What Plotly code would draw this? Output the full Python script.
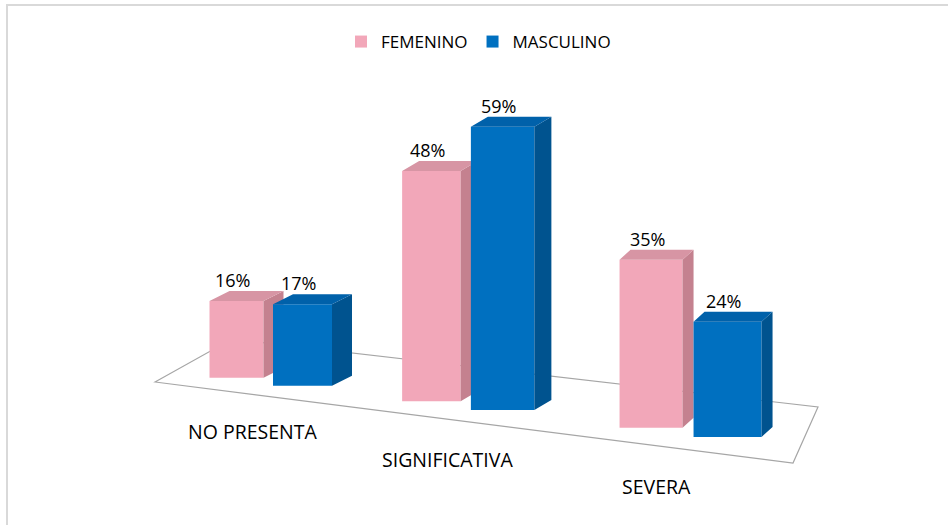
import plotly.graph_objects as go

# ---------------- data ----------------
categories = ["NO PRESENTA", "SIGNIFICATIVA", "SEVERA"]
series_names = ["FEMENINO", "MASCULINO"]
femenino = [16, 48, 35]
masculino = [17, 59, 24]
series_values = [femenino, masculino]

# ---------------- styling / layout (pseudo 3D projection) ----------------
W, H = 948, 525
SCALE = 4.8            # px per percentage point
Y0_PX = 400            # pixel row of value 0 on the y axis
FONT = "Open Sans, Liberation Sans, Arial, sans-serif"
FRONT = ["#F2A7B9", "#0070C0"]
SIDE = ["#C4818F", "#00538F"]
TOP = ["#D795A4", "#0061AA"]
DEPTH_DX = [20, 17, 11]   # horizontal depth offset per category (px)
DEPTH_DY = 10             # vertical depth offset (px)
LABEL_X = [252, 447, 656]  # category label centres (px)


def group_center(i):
    return 269.5 + 197.5 * i + 12.4 * i * (i - 1)


def bar_center(i, j):
    pitch = 66 + 5.25 * i
    return group_center(i) + (j - 0.5) * pitch


def bar_width(i, j):
    return 54 + 4.5 * i + 5 * j


def floor_px(x):
    return 406.7 + 0.1203 * (x - 476.2)


def px_to_val(py):
    return (Y0_PX - py) / SCALE


def py_paper(py):
    return 1 - py / H


fig = go.Figure()
annotations = []

for j, (name, vals) in enumerate(zip(series_names, series_values)):
    xs, ws, bases = [], [], []
    side_x, side_y, top_x, top_y = [], [], [], []
    for i, v in enumerate(vals):
        xc = bar_center(i, j)
        w = bar_width(i, j)
        b = px_to_val(floor_px(xc))
        xs.append(xc)
        ws.append(w)
        bases.append(b)
        xl, xr = xc - w / 2, xc + w / 2
        top = b + v
        dx = DEPTH_DX[i]
        dyv = DEPTH_DY / SCALE
        side_x += [xr, xr + dx, xr + dx, xr, xr, None]
        side_y += [b, b + dyv, top + dyv, top, b, None]
        top_x += [xl, xr, xr + dx, xl + dx, xl, None]
        top_y += [top, top, top + dyv, top + dyv, top, None]
        annotations.append(dict(
            x=xc - 4, y=top, xref="x", yref="y", text=f"{v}%",
            showarrow=False, yshift=21, font=dict(family=FONT, size=18, color="#000000"),
        ))
    fig.add_trace(go.Bar(
        x=xs, y=vals, base=bases, width=ws, name=name,
        marker=dict(color=FRONT[j], line=dict(width=0)),
        zorder=j, hoverinfo="skip",
    ))
    fig.add_trace(go.Scatter(
        x=side_x, y=side_y, mode="lines", fill="toself", fillcolor=SIDE[j],
        line=dict(width=0, color=SIDE[j]), showlegend=False, zorder=j, hoverinfo="skip",
    ))
    fig.add_trace(go.Scatter(
        x=top_x, y=top_y, mode="lines", fill="toself", fillcolor=TOP[j],
        line=dict(width=0, color=TOP[j]), showlegend=False, zorder=j, hoverinfo="skip",
    ))

# category labels
for i, c in enumerate(categories):
    annotations.append(dict(
        x=LABEL_X[i], y=py_paper(431.5 + 27.5 * i),
        xref="x", yref="paper", text=c, showarrow=False,
        xanchor="center", yanchor="middle",
        font=dict(family=FONT, size=19.5, color="#000000"),
    ))

# floor outline and chart border
floor_pts = [(155, 382), (232, 339), (818, 407), (793, 463)]
path = "M " + " L ".join(f"{x},{py_paper(y)}" for x, y in floor_pts) + " Z"
shapes = [
    dict(type="path", path=path, xref="x", yref="paper",
         line=dict(color="#A6A6A6", width=1.2), fillcolor="rgba(0,0,0,0)", layer="below"),
    dict(type="rect", xref="paper", yref="paper", x0=7 / W, y0=py_paper(5),
         x1=1.05, y1=-0.05, line=dict(color="#D9D9D9", width=2), layer="above"),
]

fig.update_layout(
    width=W, height=H,
    margin=dict(l=0, r=0, t=0, b=0),
    paper_bgcolor="white", plot_bgcolor="white",
    barmode="overlay",
    xaxis=dict(range=[0, W], visible=False, fixedrange=True),
    yaxis=dict(range=[px_to_val(H), px_to_val(0)], visible=False, fixedrange=True),
    showlegend=True,
    legend=dict(orientation="h", x=(381 - 40) / W, xanchor="left", y=py_paper(42), yanchor="middle",
                font=dict(family=FONT, size=17, color="#000000"),
                bgcolor="rgba(0,0,0,0)", itemwidth=30, traceorder="normal"),
    annotations=annotations,
    shapes=shapes,
)

fig.write_html(
    "out.html",
    config={"displayModeBar": False},
    post_script="document.body.style.margin='0';document.body.style.overflow='hidden';",
)
